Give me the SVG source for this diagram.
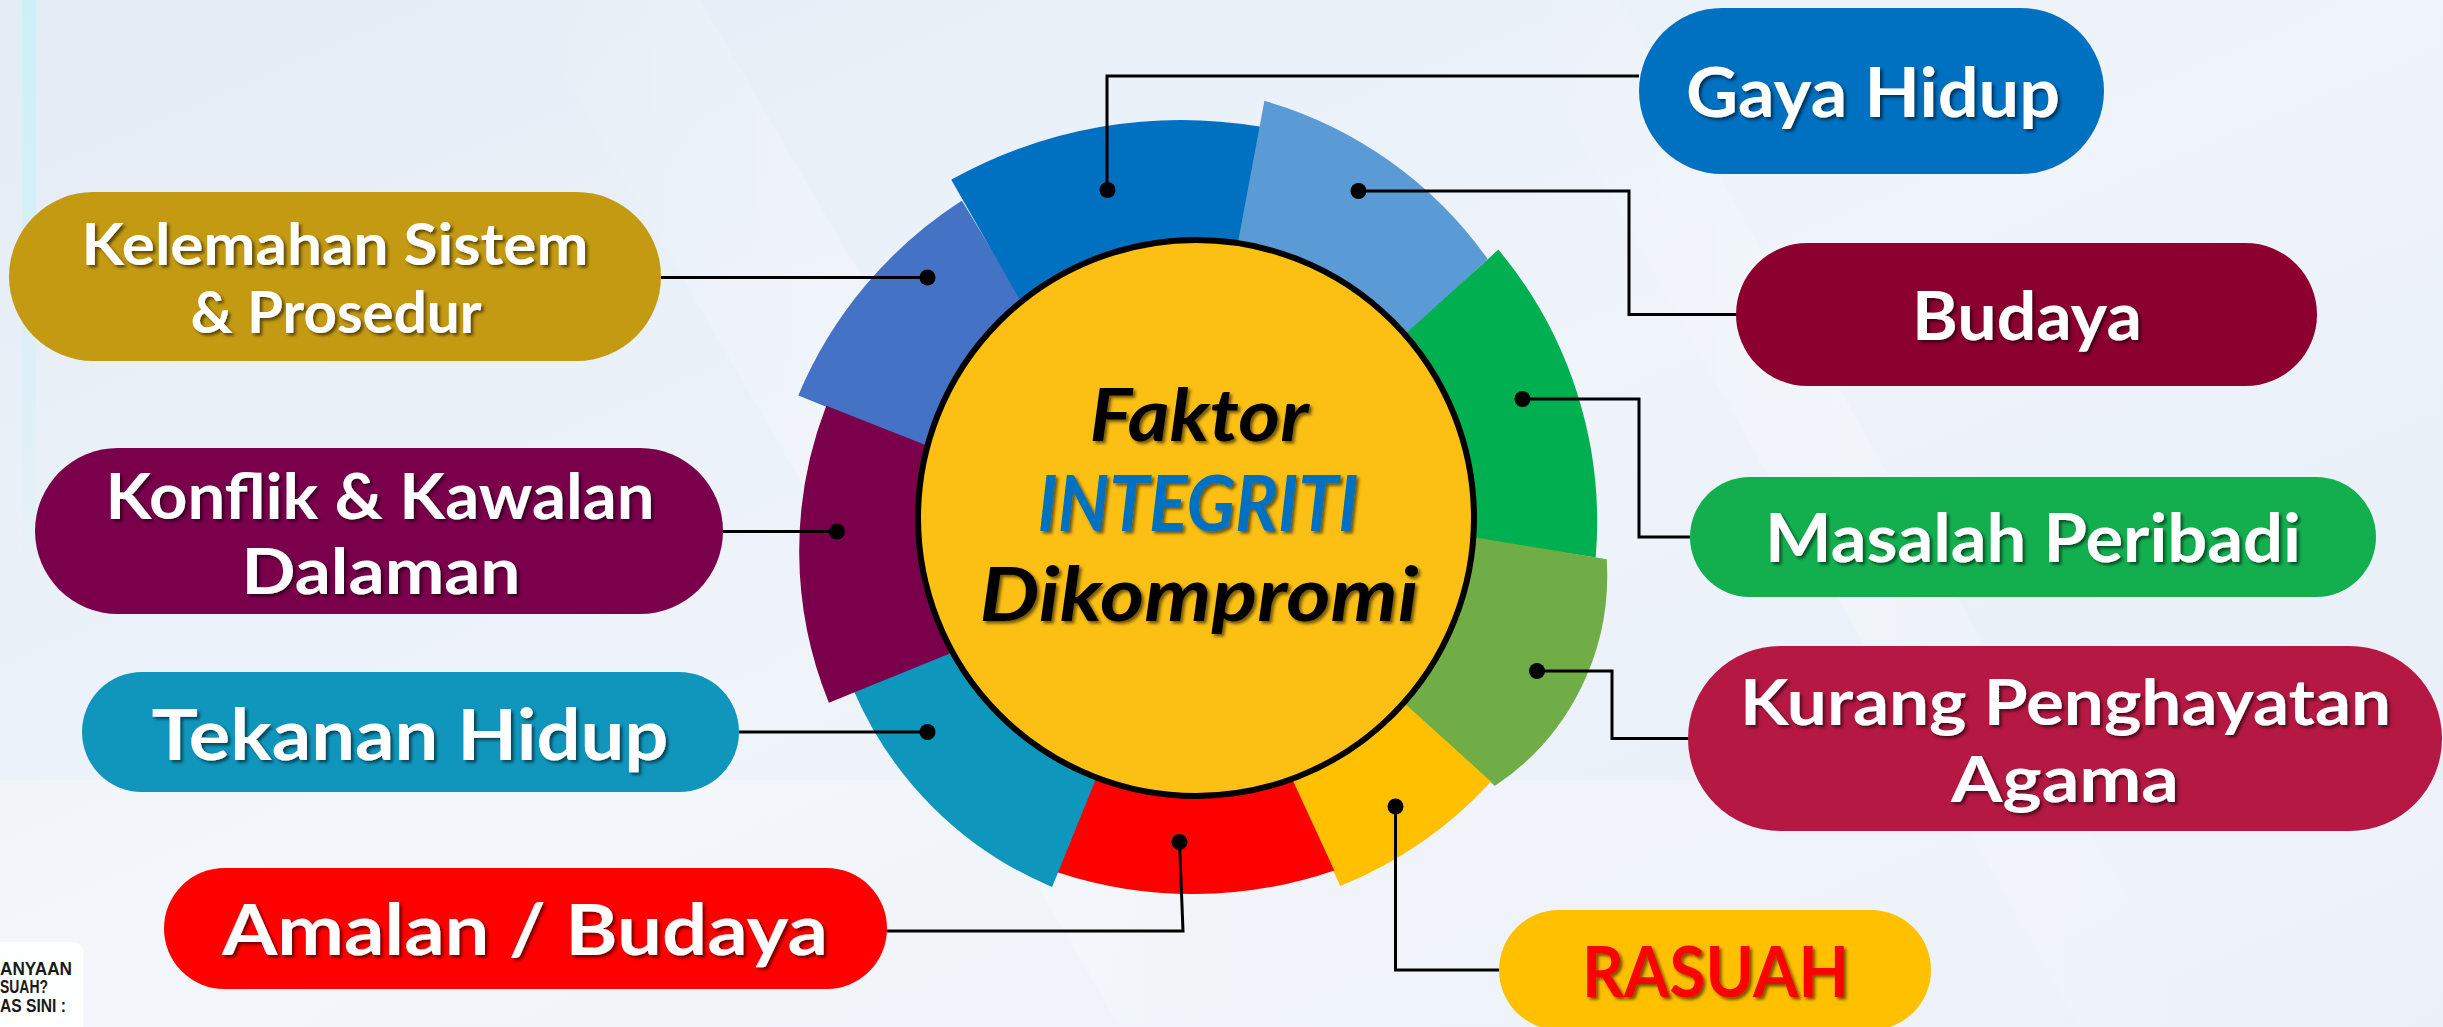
<svg xmlns="http://www.w3.org/2000/svg" width="2443" height="1027" viewBox="0 0 2443 1027">
<defs>
<linearGradient id="bg" x1="0" y1="0" x2="1" y2="1">
<stop offset="0" stop-color="#E4ECF6"/>
<stop offset="0.5" stop-color="#EFF4FA"/>
<stop offset="1" stop-color="#E6EDF6"/>
</linearGradient>
<linearGradient id="streak" x1="0" y1="0" x2="1" y2="0">
<stop offset="0" stop-color="#FFFFFF" stop-opacity="0"/>
<stop offset="0.5" stop-color="#FFFFFF" stop-opacity="0.55"/>
<stop offset="1" stop-color="#FFFFFF" stop-opacity="0"/>
</linearGradient>
<linearGradient id="glow" x1="0" y1="0" x2="0" y2="1">
<stop offset="0" stop-color="#BFF3F5" stop-opacity="0.7"/>
<stop offset="1" stop-color="#BFF3F5" stop-opacity="0"/>
</linearGradient>
<filter id="ts" x="-10%" y="-20%" width="120%" height="150%">
<feDropShadow dx="2.5" dy="2.5" stdDeviation="1.5" flood-color="#000" flood-opacity="0.55"/>
</filter>
<style>
.lbl{font-family:Lato,"Open Sans","Liberation Sans",sans-serif;font-weight:700;fill:#FFFFFF;text-anchor:middle;filter:url(#ts)}
.ctr{font-family:Lato,"Open Sans","Liberation Sans",sans-serif;font-weight:700;font-style:italic;text-anchor:middle;filter:url(#ts)}
.conn{fill:none;stroke:#000;stroke-width:3;stroke-linejoin:miter}
.dot{fill:#000}
.wedge{stroke-width:1.5;stroke-linejoin:miter}
.logo{font-family:"Liberation Sans",Arial,sans-serif;font-weight:700;fill:#1A1A1A}
</style>
</defs>

<!-- background -->
<rect x="0" y="0" width="2443" height="1027" fill="url(#bg)"/>
<polygon points="520,0 700,0 1300,1027 1120,1027" fill="url(#streak)" opacity="0.5"/>
<polygon points="1500,0 1620,0 2200,1027 2080,1027" fill="url(#streak)" opacity="0.4"/>
<rect x="22" y="0" width="14" height="600" fill="url(#glow)"/>
<rect x="0" y="780" width="2443" height="247" fill="#FFFFFF" opacity="0.25"/>

<!-- wedges -->
<g id="wedges">
<path id="w-kelemahan" class="wedge" d="M799.3,395 A427,427 0 0 1 961.7,201.7 L1019.3,297.3 L1196,518 L923.3,445 Z" fill="#4472C4" stroke="#4472C4"/>
<path id="w-gaya" class="wedge" d="M952.3,180 A470,470 0 0 1 1259.3,127.3 L1239.3,239.3 L1196,518 L1019.3,297.3 Z" fill="#0070C0" stroke="#0070C0"/>
<path id="w-budaya" class="wedge" d="M1265,101.7 A413,413 0 0 1 1486.7,259 L1410,330.7 L1196,518 L1239.3,239.3 Z" fill="#5B9BD5" stroke="#5B9BD5"/>
<path id="w-masalah" class="wedge" d="M1498.3,250.7 A424,424 0 0 1 1595,556.7 L1476,538.3 L1196,518 L1410,330.7 Z" fill="#00B050" stroke="#00B050"/>
<path id="w-kurang" class="wedge" d="M1606,560 A252,252 0 0 1 1495,785 L1407.3,706.7 L1196,518 L1476,538.3 Z" fill="#70AD47" stroke="#70AD47"/>
<path id="w-rasuah" class="wedge" d="M1490,781.7 A417,417 0 0 1 1340.7,885 L1293.3,783.3 L1196,518 L1407.3,706.7 Z" fill="#FFC000" stroke="#FFC000"/>
<path id="w-amalan" class="wedge" d="M1333.3,870 A433,433 0 0 1 1058.3,871.7 L1094,781.7 L1196,518 L1293.3,783.3 Z" fill="#FF0000" stroke="#FF0000"/>
<path id="w-tekanan" class="wedge" d="M1051.7,886 A371,371 0 0 1 855,691.7 L948.3,653.3 L1196,518 L1094,781.7 Z" fill="#0F96BC" stroke="#0F96BC"/>
<path id="w-konflik" class="wedge" d="M829.3,701.7 A402,402 0 0 1 826.7,406.7 L923.3,445 L1196,518 L948.3,653.3 Z" fill="#7A004B" stroke="#7A004B"/>
</g>

<!-- center node -->
<g id="center">
<circle cx="1196" cy="518" r="278" fill="#FBC013" stroke="#000" stroke-width="6"/>
<text class="ctr" x="1199" y="441" font-size="73" fill="#000" textLength="219" lengthAdjust="spacingAndGlyphs">Faktor</text>
<text class="ctr" x="1198" y="531" font-size="77" fill="#0070C0" textLength="321" lengthAdjust="spacingAndGlyphs">INTEGRITI</text>
<text class="ctr" x="1199" y="621" font-size="75" fill="#000" textLength="439" lengthAdjust="spacingAndGlyphs">Dikompromi</text>
</g>

<!-- connectors -->
<g id="connectors">
<path class="conn" d="M1639,76 H1107 V190"/>
<circle class="dot" cx="1107.5" cy="190" r="8"/>
<path class="conn" d="M1358.5,191 H1629 V314.5 H1736"/>
<circle class="dot" cx="1358.5" cy="191" r="8"/>
<path class="conn" d="M1522.5,399 H1639 V537 H1690"/>
<circle class="dot" cx="1522.5" cy="399" r="8"/>
<path class="conn" d="M1537,671 H1612 V738.5 H1688"/>
<circle class="dot" cx="1537" cy="671" r="8"/>
<path class="conn" d="M1395.5,806.5 V970 H1499"/>
<circle class="dot" cx="1395.5" cy="806.5" r="8"/>
<path class="conn" d="M1179.5,842 L1183,931 H887"/>
<circle class="dot" cx="1179.5" cy="842" r="8"/>
<path class="conn" d="M927.5,732 H739"/>
<circle class="dot" cx="927.5" cy="732" r="8"/>
<path class="conn" d="M837,531.5 H723"/>
<circle class="dot" cx="837" cy="531.5" r="8"/>
<path class="conn" d="M927.5,277.5 H661"/>
<circle class="dot" cx="927.5" cy="277.5" r="8"/>
</g>

<!-- label nodes -->
<g id="n-gaya-hidup">
<rect x="1639" y="8" width="465" height="166" rx="83" fill="#0070C0"/>
<text class="lbl" x="1873" y="117" font-size="68" textLength="374" lengthAdjust="spacingAndGlyphs">Gaya Hidup</text>
</g>
<g id="n-budaya">
<rect x="1736" y="243" width="581" height="143" rx="71.5" fill="#8C002F"/>
<text class="lbl" x="2027" y="340" font-size="66" textLength="230" lengthAdjust="spacingAndGlyphs">Budaya</text>
</g>
<g id="n-masalah">
<rect x="1690" y="477" width="686" height="120" rx="60" fill="#13AF4F"/>
<text class="lbl" x="2033" y="562" font-size="66" textLength="536" lengthAdjust="spacingAndGlyphs">Masalah Peribadi</text>
</g>
<g id="n-kurang">
<rect x="1688" y="646" width="754" height="185" rx="92.5" fill="#B51842"/>
<text class="lbl" x="2065.5" y="725" font-size="64" textLength="651" lengthAdjust="spacingAndGlyphs">Kurang Penghayatan</text>
<text class="lbl" x="2065" y="802" font-size="64" textLength="228" lengthAdjust="spacingAndGlyphs">Agama</text>
</g>
<g id="n-rasuah">
<rect x="1499" y="910" width="432" height="120" rx="60" fill="#FFC000"/>
<text class="lbl" x="1715.5" y="997" font-size="71" style="fill:#FF0000" textLength="267" lengthAdjust="spacingAndGlyphs">RASUAH</text>
</g>
<g id="n-kelemahan">
<rect x="9" y="192" width="652" height="169" rx="84.5" fill="#C49A12"/>
<text class="lbl" x="335" y="265" font-size="57" textLength="507" lengthAdjust="spacingAndGlyphs">Kelemahan Sistem</text>
<text class="lbl" x="336" y="333" font-size="57" textLength="291" lengthAdjust="spacingAndGlyphs">&amp; Prosedur</text>
</g>
<g id="n-konflik">
<rect x="35" y="448" width="688" height="166" rx="83" fill="#7A004B"/>
<text class="lbl" x="380" y="519" font-size="64" textLength="549" lengthAdjust="spacingAndGlyphs">Konflik &amp; Kawalan</text>
<text class="lbl" x="381" y="594" font-size="64" textLength="279" lengthAdjust="spacingAndGlyphs">Dalaman</text>
</g>
<g id="n-tekanan">
<rect x="82" y="672" width="657" height="120" rx="60" fill="#1096BD"/>
<text class="lbl" x="410" y="760" font-size="71" textLength="517" lengthAdjust="spacingAndGlyphs">Tekanan Hidup</text>
</g>
<g id="n-amalan">
<rect x="164" y="868" width="723" height="121" rx="60.5" fill="#FF0000"/>
<text class="lbl" x="525" y="955" font-size="70" textLength="606" lengthAdjust="spacingAndGlyphs">Amalan / Budaya</text>
</g>

<!-- corner logo fragment -->
<g id="logo">
<path d="M0,942 H72 Q83,942 83,953 V1027 H0 Z" fill="#FFFFFF" opacity="0.9"/>
<text class="logo" x="0" y="975" font-size="19" textLength="72" lengthAdjust="spacingAndGlyphs">ANYAAN</text>
<text class="logo" x="0" y="993" font-size="19" textLength="48" lengthAdjust="spacingAndGlyphs">SUAH?</text>
<text class="logo" x="0" y="1012" font-size="19" textLength="66" lengthAdjust="spacingAndGlyphs">AS SINI :</text>
</g>
</svg>
